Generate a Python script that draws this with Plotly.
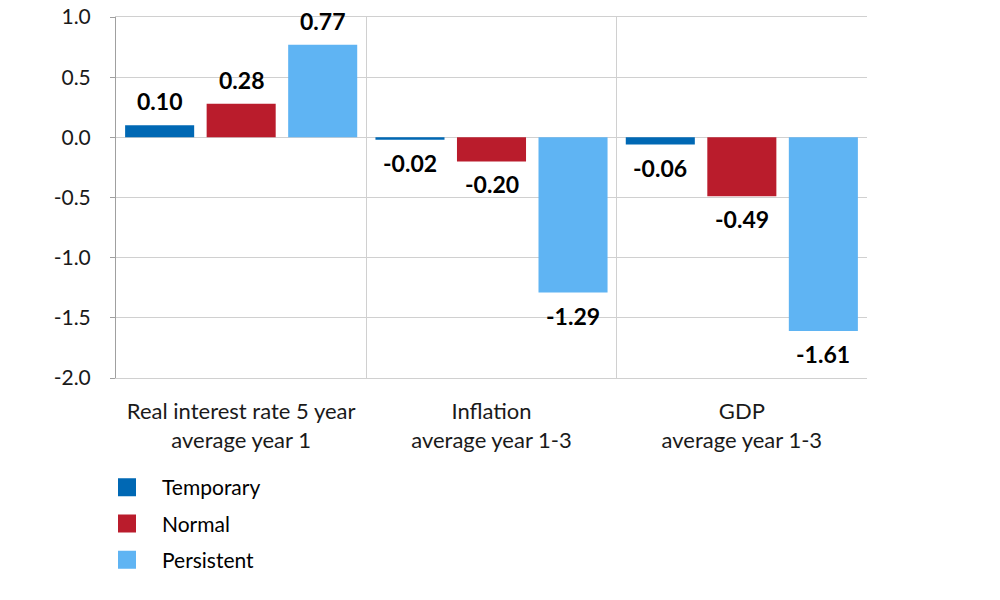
import plotly.graph_objects as go

categories = ["Real interest rate 5 year<br>average year 1", "Inflation<br>average year 1-3", "GDP<br>average year 1-3"]
series_names = ["Temporary", "Normal", "Persistent"]
temporary = [0.10, -0.02, -0.06]
normal = [0.28, -0.20, -0.49]
persistent = [0.77, -1.29, -1.61]
y_ticks = [1.0, 0.5, 0.0, -0.5, -1.0, -1.5, -2.0]
colors = ["#0068B4", "#BA1C2C", "#5FB4F3"]

FONT = "Lato"
values = [temporary, normal, persistent]

fig = go.Figure()
for name, vals, col in zip(series_names, values, colors):
    fig.add_trace(go.Bar(x=categories, y=vals, name=name, marker_color=col,
                         marker_line_width=0, showlegend=False, hoverinfo="skip"))
for i, (name, col) in enumerate(zip(series_names, colors)):
    fig.add_trace(go.Scatter(x=[None], y=[None], mode="markers", name=name,
                             marker=dict(symbol="square", size=16, color=col,
                                         line=dict(color=col, width=2)),
                             legendgroup=f"g{i}"))

slot = 81.5
annotations = []
for s, vals in enumerate(values):
    for c, v in enumerate(vals):
        annotations.append(dict(
            x=categories[c], y=v, xref="x", yref="y",
            text=f"{v:.2f}",
            showarrow=False, xshift=(s - 1) * slot,
            yanchor="bottom" if v >= 0 else "top",
            yshift=8 if v >= 0 else -7,
            font=dict(family=FONT, size=23, color="#000000", weight="bold"),
        ))

fig.update_layout(
    width=1000, height=600,
    margin=dict(l=116, r=133, t=17, b=222, autoexpand=False),
    paper_bgcolor="white", plot_bgcolor="white",
    barmode="group", bargap=0.023, bargroupgap=0.153,
    font=dict(family=FONT, size=22, color="#1a1a1a"),
    annotations=annotations,
    legend=dict(xref="container", yref="container", x=0.092, y=1 - 467 / 600,
                xanchor="left", yanchor="top", itemwidth=60,
                orientation="v", tracegroupgap=6,
                font=dict(family=FONT, size=21, color="#000000")),
)
fig.update_xaxes(
    automargin=False,
    tickson="boundaries", showgrid=True, gridcolor="#d0d0d0", gridwidth=1,
    showline=True, linecolor="#d0d0d0", mirror=True,
    ticks="", ticklabelstandoff=14,
    tickfont=dict(family=FONT, size=22, color="#1a1a1a"),
)
fig.update_yaxes(
    automargin=False, ticklabeloverflow="allow",
    range=[-2.0, 1.0], tickvals=y_ticks,
    ticktext=[f"{t:.1f}" for t in y_ticks],
    showgrid=True, gridcolor="#d0d0d0", gridwidth=1,
    zeroline=True, zerolinecolor="#d0d0d0", zerolinewidth=1,
    showline=True, linecolor="#a0a0a0", ticks="outside", ticklen=5, tickcolor="#a0a0a0",
    ticklabelstandoff=15,
    tickfont=dict(family=FONT, size=21, color="#1a1a1a"),
)

fig.write_html("out.html", config={"displayModeBar": False},
               post_script="document.body.style.margin='0';")
